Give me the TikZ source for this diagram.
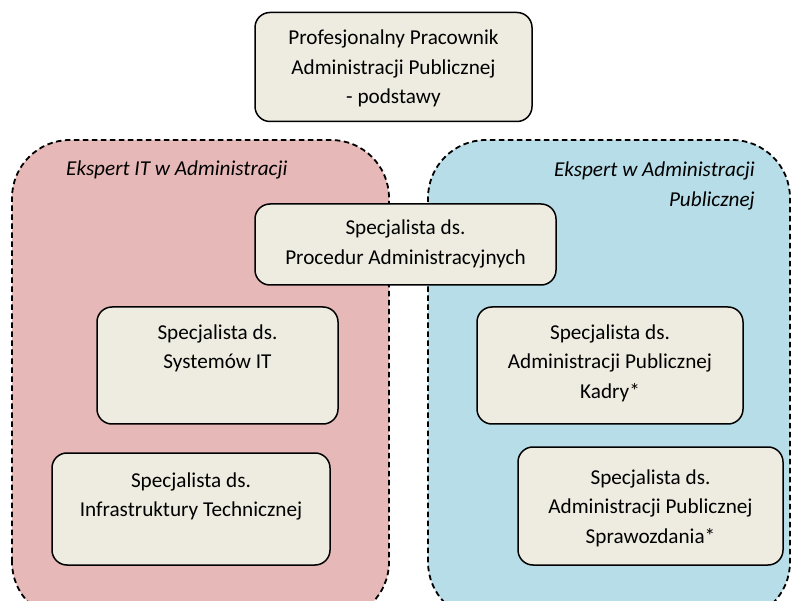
\documentclass[tikz,border=0pt]{standalone}
\usepackage{fontspec}
\setmainfont{Carlito}
\definecolor{redfill}{RGB}{230,184,183}
\definecolor{bluefill}{RGB}{183,221,232}
\definecolor{boxfill}{RGB}{238,236,225}
\begin{document}
\begin{tikzpicture}[x=1pt,y=1pt,
  region/.style={draw=black, line width=1.8pt, dash pattern=on 5.5pt off 3.5pt, rounded corners=58pt},
  box/.style={draw=black, line width=1.5pt, fill=boxfill, rounded corners=15pt, inner sep=0pt},
  txt/.style={align=center, font=\fontsize{21.2}{29.5}\selectfont, inner sep=0pt},
  lbl/.style={font=\fontsize{21.2}{30}\selectfont\itshape, inner sep=0pt}]
\useasboundingbox (0,0) rectangle (792,600);
\clip (0,0) rectangle (792,600);
% regions
\draw[region, fill=redfill] (12,-20) rectangle (389,460);
\draw[region, fill=bluefill] (428,-20) rectangle (790,460);
\node[lbl, anchor=west] (lblit) at (66,430) {Ekspert IT w Administracji};
\node[lbl, align=right, anchor=east] (lblap) at (755,414) {Ekspert w Administracji\\Publicznej};
% boxes
\node[box, minimum width=277pt, minimum height=109pt] (top) at (393.5,533) {};
\node[txt] (toptxt) at (393.5,531.5) {Profesjonalny Pracownik\\Administracji Publicznej\\- podstawy};
\node[box, minimum width=301pt, minimum height=81pt] (proc) at (405.5,355.5) {};
\node[txt] (proctxt) at (405.5,356) {Specjalista ds.\\Procedur Administracyjnych};
\node[box, minimum width=241pt, minimum height=117pt] (sys) at (217.5,234.5) {};
\node[txt] (systxt) at (217.5,251.5) {Specjalista ds.\\Systemów IT};
\node[box, minimum width=266pt, minimum height=117pt] (kad) at (610,234.5) {};
\node[txt] (kadtxt) at (610,237) {Specjalista ds.\\Administracji Publicznej\\Kadry*};
\node[box, minimum width=278pt, minimum height=112pt] (inf) at (191,91) {};
\node[txt] (inftxt) at (191,103.5) {Specjalista ds.\\Infrastruktury Technicznej};
\node[box, minimum width=265pt, minimum height=118pt] (spr) at (650.5,94) {};
\node[txt] (sprtxt) at (650.5,92) {Specjalista ds.\\Administracji Publicznej\\Sprawozdania*};
\end{tikzpicture}
\end{document}
